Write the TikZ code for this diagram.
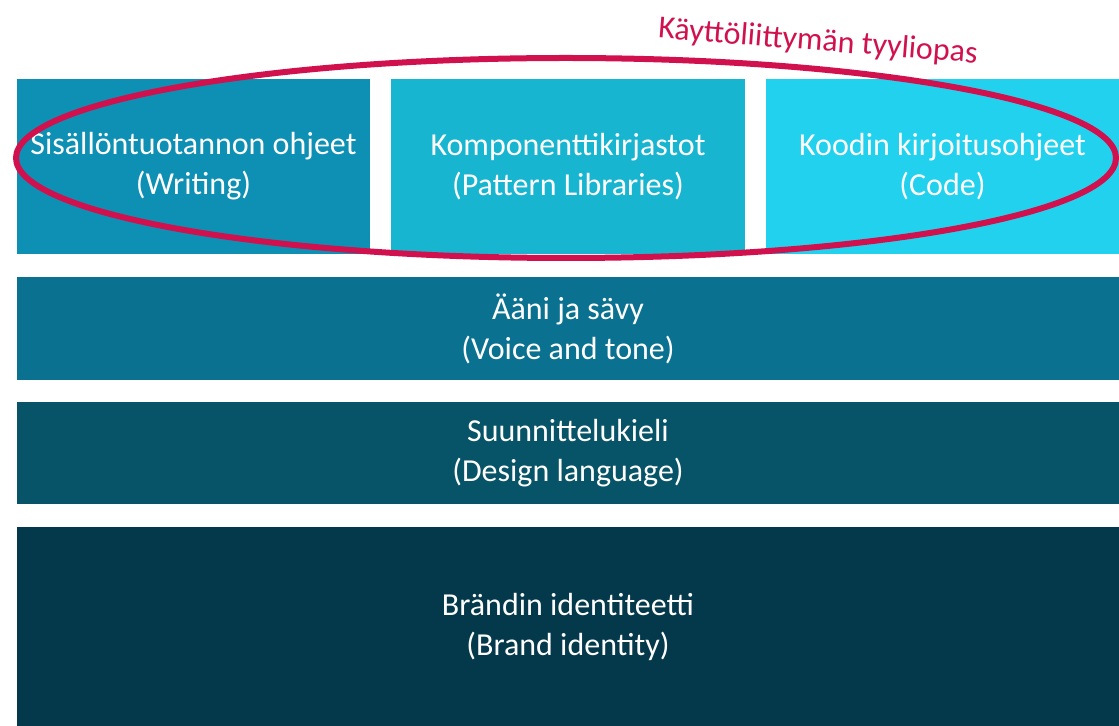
\documentclass[tikz,border=0pt]{standalone}
\usepackage{fontspec}
\setmainfont{Carlito}
\definecolor{writingblue}{HTML}{0E8FB4}
\definecolor{patternblue}{HTML}{18B5D1}
\definecolor{codeblue}{HTML}{22D1EE}
\definecolor{voiceblue}{HTML}{0A7190}
\definecolor{designblue}{HTML}{075367}
\definecolor{brandblue}{HTML}{04384B}
\definecolor{ringred}{HTML}{D1114E}

\begin{document}
\begin{tikzpicture}[x=0.5pt,y=-0.5pt,
  layer/.style={fill=#1, text=white, align=center, inner sep=0pt,
    font=\fontsize{16}{20}\selectfont}, % 白色文字
  ring/.style={draw=ringred, line width=3pt},
]
  \useasboundingbox (0,0) rectangle (1119,726);
  % 上层
  \node[layer=writingblue, minimum width=176.5pt, minimum height=87.5pt] (writing) at (193.5,166.5) {Sisällöntuotannon ohjeet\\(Writing)};
  \node[layer=patternblue, minimum width=177pt, minimum height=87.5pt] (patterns) at (568,166.5) {Komponenttikirjastot\\(Pattern Libraries)};
  \node[layer=codeblue, minimum width=176.5pt, minimum height=87.5pt] (code) at (942.5,166.5) {Koodin kirjoitusohjeet\\(Code)};
  % 下层
  \node[layer=voiceblue, minimum width=551pt, minimum height=51.5pt] (voice) at (568,328.5) {Ääni ja sävy\\(Voice and tone)};
  \node[layer=designblue, minimum width=551pt, minimum height=51pt] (design) at (568,453) {Suunnittelukieli\\(Design language)};
  \node[layer=brandblue, minimum width=551pt, minimum height=99.5pt] (brand) at (568,626.5) {Brändin identiteetti\\(Brand identity)};
  % 椭圆
  \draw[ring] (566,158) ellipse [x radius=550, y radius=100];
  \node[rotate=-4.5, text=ringred, inner sep=0pt, font=\fontsize{16}{18}\selectfont] (guide) at (818,42) {Käyttöliittymän tyyliopas};
\end{tikzpicture}
\end{document}
